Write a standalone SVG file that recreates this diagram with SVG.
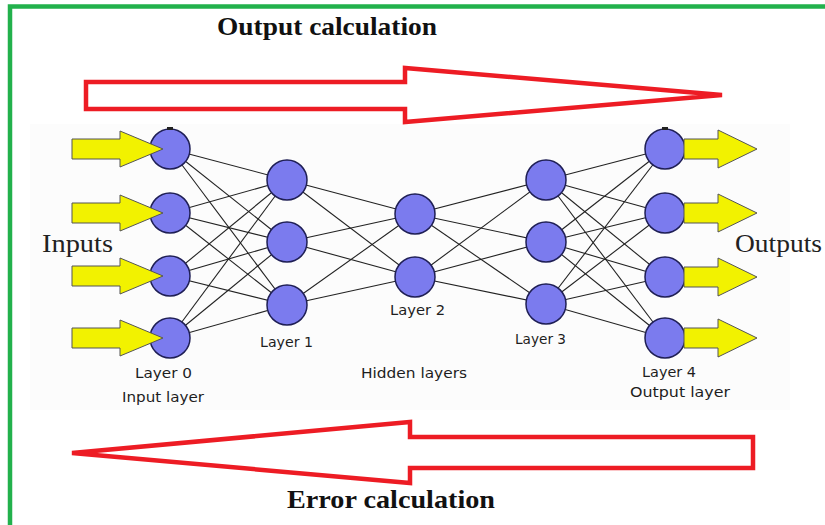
<svg xmlns="http://www.w3.org/2000/svg" width="825" height="525" viewBox="0 0 825 525">
  <style>
    .title { font-family: "Liberation Serif", "Times New Roman", serif; font-weight: bold; font-size: 26px; fill: #111; }
    .io { font-family: "Liberation Serif", "Times New Roman", serif; font-size: 26px; fill: #222; }
    .lbl { font-family: "DejaVu Sans", Verdana, sans-serif; font-size: 14px; fill: #1e1e1e; }
    .flow { fill: #ffffff; stroke: #ed1c24; stroke-width: 4.5; stroke-linejoin: miter; }
    .node { fill: #7b7bee; stroke: #1f1f55; stroke-width: 1.5; }
    .edge { stroke: #222222; stroke-width: 1.1; }
    .arrow { fill: #f2f200; stroke: #555555; stroke-width: 1; }
  </style>
  <defs>
    <polygon id="inArrow" class="arrow" points="72,-10 120,-10 120,-18 163,0 120,18 120,10 72,10"/>
    <polygon id="outArrow" class="arrow" points="684,-10 718,-10 718,-19 757,0 718,19 718,10 684,10"/>
  </defs>

  <rect width="825" height="525" fill="#ffffff"/>
  <!-- faint backdrop of the network panel -->
  <rect x="30" y="124" width="760" height="286" fill="#fcfcfc"/>

  <!-- green frame (left and top edges) -->
  <path d="M10,525 V6.5 H825" fill="none" stroke="#22b14c" stroke-width="4.5"/>

  <!-- forward pass -->
  <text class="title" x="217" y="35" textLength="220" lengthAdjust="spacingAndGlyphs">Output calculation</text>
  <polygon class="flow" points="86,82 405,82 405,68 722,95 405,122 405,109 86,109"/>

  <!-- backward pass -->
  <polygon class="flow" points="753,437 410,437 410,422 72,453 410,483 410,468 753,468"/>
  <text class="title" x="287" y="508" textLength="208" lengthAdjust="spacingAndGlyphs">Error calculation</text>

  <!-- connectors -->
  <g id="connectors">
    <!-- layer 0 to layer 1 -->
    <line class="edge" x1="170" y1="149" x2="287" y2="180"/>
    <line class="edge" x1="170" y1="149" x2="287" y2="242"/>
    <line class="edge" x1="170" y1="149" x2="287" y2="305"/>
    <line class="edge" x1="170" y1="213" x2="287" y2="180"/>
    <line class="edge" x1="170" y1="213" x2="287" y2="242"/>
    <line class="edge" x1="170" y1="213" x2="287" y2="305"/>
    <line class="edge" x1="170" y1="276" x2="287" y2="180"/>
    <line class="edge" x1="170" y1="276" x2="287" y2="242"/>
    <line class="edge" x1="170" y1="276" x2="287" y2="305"/>
    <line class="edge" x1="170" y1="338" x2="287" y2="180"/>
    <line class="edge" x1="170" y1="338" x2="287" y2="242"/>
    <line class="edge" x1="170" y1="338" x2="287" y2="305"/>
    <!-- layer 1 to layer 2 -->
    <line class="edge" x1="287" y1="180" x2="415" y2="214"/>
    <line class="edge" x1="287" y1="180" x2="415" y2="277"/>
    <line class="edge" x1="287" y1="242" x2="415" y2="214"/>
    <line class="edge" x1="287" y1="242" x2="415" y2="277"/>
    <line class="edge" x1="287" y1="305" x2="415" y2="214"/>
    <line class="edge" x1="287" y1="305" x2="415" y2="277"/>
    <!-- layer 2 to layer 3 -->
    <line class="edge" x1="415" y1="214" x2="546" y2="180"/>
    <line class="edge" x1="415" y1="214" x2="546" y2="242"/>
    <line class="edge" x1="415" y1="214" x2="546" y2="304"/>
    <line class="edge" x1="415" y1="277" x2="546" y2="180"/>
    <line class="edge" x1="415" y1="277" x2="546" y2="242"/>
    <line class="edge" x1="415" y1="277" x2="546" y2="304"/>
    <!-- layer 3 to layer 4 -->
    <line class="edge" x1="546" y1="180" x2="665" y2="149"/>
    <line class="edge" x1="546" y1="180" x2="665" y2="213"/>
    <line class="edge" x1="546" y1="180" x2="665" y2="277"/>
    <line class="edge" x1="546" y1="180" x2="665" y2="338"/>
    <line class="edge" x1="546" y1="242" x2="665" y2="149"/>
    <line class="edge" x1="546" y1="242" x2="665" y2="213"/>
    <line class="edge" x1="546" y1="242" x2="665" y2="277"/>
    <line class="edge" x1="546" y1="242" x2="665" y2="338"/>
    <line class="edge" x1="546" y1="304" x2="665" y2="149"/>
    <line class="edge" x1="546" y1="304" x2="665" y2="213"/>
    <line class="edge" x1="546" y1="304" x2="665" y2="277"/>
    <line class="edge" x1="546" y1="304" x2="665" y2="338"/>
  </g>

  <!-- input layer -->
  <g id="layer0-node1"><circle class="node" cx="170" cy="149" r="20"/><rect x="167" y="127" width="6" height="3" fill="#222"/></g>
  <g id="layer0-node2"><circle class="node" cx="170" cy="213" r="20"/></g>
  <g id="layer0-node3"><circle class="node" cx="170" cy="276" r="20"/></g>
  <g id="layer0-node4"><circle class="node" cx="170" cy="338" r="20"/></g>

  <!-- hidden layer 1 -->
  <g id="layer1-node1"><circle class="node" cx="287" cy="180" r="20"/></g>
  <g id="layer1-node2"><circle class="node" cx="287" cy="242" r="20"/></g>
  <g id="layer1-node3"><circle class="node" cx="287" cy="305" r="20"/></g>

  <!-- hidden layer 2 -->
  <g id="layer2-node1"><circle class="node" cx="415" cy="214" r="20"/></g>
  <g id="layer2-node2"><circle class="node" cx="415" cy="277" r="20"/></g>

  <!-- hidden layer 3 -->
  <g id="layer3-node1"><circle class="node" cx="546" cy="180" r="20"/></g>
  <g id="layer3-node2"><circle class="node" cx="546" cy="242" r="20"/></g>
  <g id="layer3-node3"><circle class="node" cx="546" cy="304" r="20"/></g>

  <!-- output layer -->
  <g id="layer4-node1"><circle class="node" cx="665" cy="149" r="20"/><rect x="662" y="127" width="6" height="3" fill="#222"/></g>
  <g id="layer4-node2"><circle class="node" cx="665" cy="213" r="20"/></g>
  <g id="layer4-node3"><circle class="node" cx="665" cy="277" r="20"/></g>
  <g id="layer4-node4"><circle class="node" cx="665" cy="338" r="20"/></g>

  <!-- input arrows -->
  <g id="inputs">
    <use href="#inArrow" transform="translate(0,149)"/>
    <use href="#inArrow" transform="translate(0,213)"/>
    <use href="#inArrow" transform="translate(0,276)"/>
    <use href="#inArrow" transform="translate(0,338)"/>
    <text class="io" x="42" y="252" textLength="71" lengthAdjust="spacingAndGlyphs">Inputs</text>
  </g>

  <!-- output arrows -->
  <g id="outputs">
    <use href="#outArrow" transform="translate(0,149)"/>
    <use href="#outArrow" transform="translate(0,213)"/>
    <use href="#outArrow" transform="translate(0,277)"/>
    <use href="#outArrow" transform="translate(0,338)"/>
    <text class="io" x="735" y="252" textLength="87" lengthAdjust="spacingAndGlyphs">Outputs</text>
  </g>

  <!-- layer captions -->
  <g id="captions">
    <text class="lbl" x="135" y="378" textLength="57" lengthAdjust="spacingAndGlyphs">Layer 0</text>
    <text class="lbl" x="122" y="402" textLength="82" lengthAdjust="spacingAndGlyphs">Input layer</text>
    <text class="lbl" x="260" y="347" textLength="53" lengthAdjust="spacingAndGlyphs">Layer 1</text>
    <text class="lbl" x="390" y="315" textLength="55" lengthAdjust="spacingAndGlyphs">Layer 2</text>
    <text class="lbl" x="361" y="378" textLength="106" lengthAdjust="spacingAndGlyphs">Hidden layers</text>
    <text class="lbl" x="515" y="344" textLength="51" lengthAdjust="spacingAndGlyphs">Layer 3</text>
    <text class="lbl" x="642" y="377" textLength="54" lengthAdjust="spacingAndGlyphs">Layer 4</text>
    <text class="lbl" x="630" y="397" textLength="100" lengthAdjust="spacingAndGlyphs">Output layer</text>
  </g>
</svg>
